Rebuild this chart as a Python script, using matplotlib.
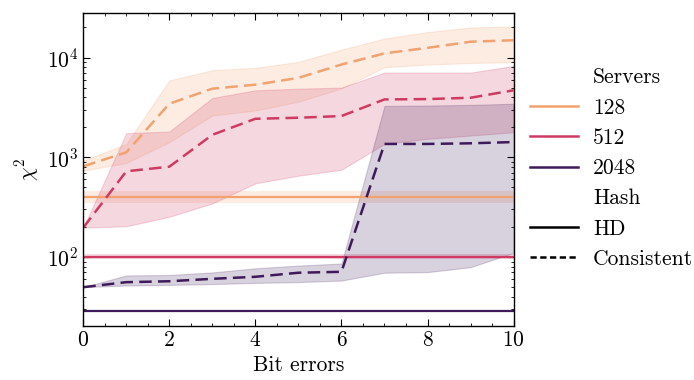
import numpy as np
import matplotlib
matplotlib.use("Agg")
import matplotlib.pyplot as plt
from matplotlib.lines import Line2D

# ----------------------------
# Data
# ----------------------------
bit_errors = [0, 1, 2, 3, 4, 5, 6, 7, 8, 9, 10]
servers = ["128", "512", "2048"]
colors = {"128": "#f2a26e", "512": "#cf3a63", "2048": "#3f1a5a"}

# HD hash: flat lines with (low, mean, high)
hd_mean = {"128": 395, "512": 100, "2048": 28.5}
hd_low = {"128": 345, "512": 95, "2048": 27.8}
hd_high = {"128": 460, "512": 106, "2048": 29.2}

# Consistent hash
cons_mean_128 = [811, 1120, 3440, 4870, 5340, 6250, 8500, 11000, 12500, 14400, 14900]
cons_low_128 = [733, 877, 1416, 2620, 2940, 3600, 4900, 8000, 8500, 8800, 9000]
cons_high_128 = [925, 1360, 5900, 7450, 7870, 9060, 12000, 15500, 18000, 20000, 20500]

cons_mean_512 = [197, 723, 804, 1680, 2430, 2490, 2590, 3800, 3830, 3950, 4690]
cons_low_512 = [197, 203, 253, 344, 547, 653, 750, 1360, 1530, 1650, 1780]
cons_high_512 = [197, 1745, 1810, 3930, 4690, 4870, 4990, 7060, 7060, 7060, 8240]

cons_mean_2048 = [49.8, 55.9, 57.1, 60.4, 63.3, 69.5, 71.0, 1360, 1360, 1380, 1420]
cons_low_2048 = [49.8, 51.8, 52.5, 53.5, 55, 56, 58, 69.5, 70.5, 79, 110]
cons_high_2048 = [49.8, 65.3, 66, 70, 77, 82, 86, 3270, 3300, 3350, 3440]

cons_mean = {"128": cons_mean_128, "512": cons_mean_512, "2048": cons_mean_2048}
cons_low = {"128": cons_low_128, "512": cons_low_512, "2048": cons_low_2048}
cons_high = {"128": cons_high_128, "512": cons_high_512, "2048": cons_high_2048}

# ----------------------------
# Styling (LaTeX-ish look)
# ----------------------------
plt.rcParams.update({
    "font.family": "serif",
    "font.serif": ["cmr10"],
    "mathtext.fontset": "cm",
    "axes.formatter.use_mathtext": True,
    "axes.unicode_minus": False,
    "font.size": 15.5,
    "xtick.direction": "in",
    "ytick.direction": "in",
    "xtick.top": True,
    "ytick.right": True,
    "xtick.minor.visible": True,
    "ytick.minor.visible": True,
    "xtick.major.size": 5,
    "ytick.major.size": 5,
    "xtick.minor.size": 2.5,
    "ytick.minor.size": 2.5,
    "axes.linewidth": 1.0,
})

fig = plt.figure(figsize=(6.94, 3.8), dpi=100)
ax = fig.add_axes([0.120, 0.142, 0.620, 0.824])

x = np.array(bit_errors)
ALPHA = 0.2

for s in servers:
    c = colors[s]
    # HD (solid)
    ax.fill_between([x[0], x[-1]], hd_low[s], hd_high[s], color=c, alpha=ALPHA, linewidth=0)
    ax.plot([x[0], x[-1]], [hd_mean[s], hd_mean[s]], color=c, linewidth=1.6)
    # Consistent (dashed)
    ax.fill_between(x, cons_low[s], cons_high[s], color=c, alpha=ALPHA, linewidth=0.8)
    ax.plot(x, cons_mean[s], color=c, linewidth=1.8, linestyle=(0, (5, 2.5)))

ax.set_yscale("log")
ax.set_xlim(0, 10)
ax.set_ylim(20.3, 28000)
ax.set_xticks([0, 2, 4, 6, 8, 10])
ax.set_xlabel("Bit errors")
ax.set_ylabel(r"$\chi^2$")

# ----------------------------
# Legend (seaborn-like hue + style)
# ----------------------------
blank = Line2D([], [], color="none")
handles = [
    blank,
    Line2D([], [], color=colors["128"], linewidth=1.8),
    Line2D([], [], color=colors["512"], linewidth=1.8),
    Line2D([], [], color=colors["2048"], linewidth=1.8),
    blank,
    Line2D([], [], color="black", linewidth=1.8),
    Line2D([], [], color="black", linewidth=1.8, linestyle=(0, (2.5, 1.4))),
]
labels = ["Servers", "128", "512", "2048", "Hash", "HD", "Consistent"]
fig.legend(handles, labels, loc="center left", bbox_to_anchor=(0.752, 0.557),
           frameon=False, handlelength=2.2, handletextpad=0.7, labelspacing=0.5,
           borderaxespad=0.0)

fig.savefig("out.png", dpi=100)
